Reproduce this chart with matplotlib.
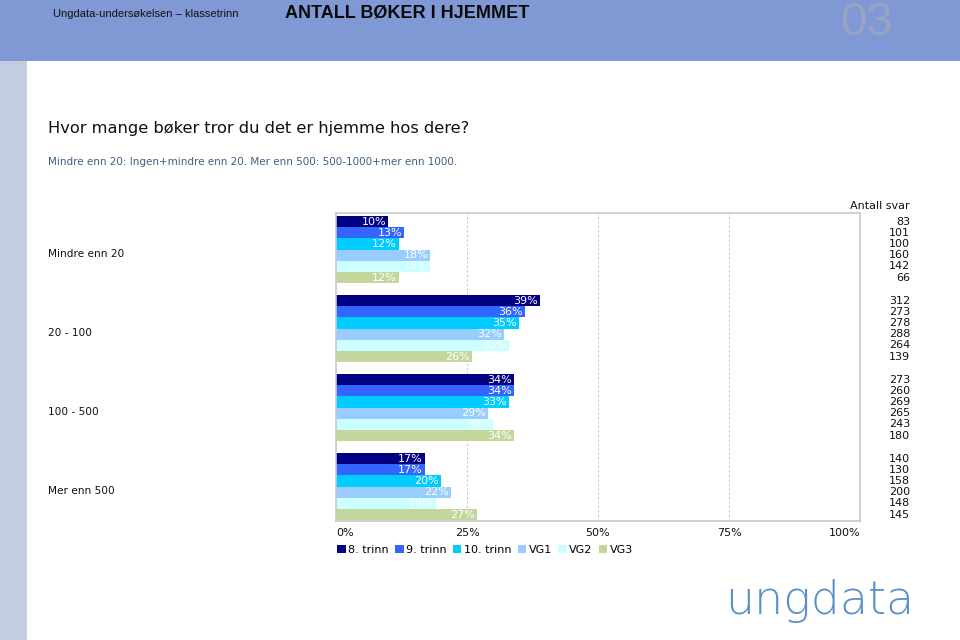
import numpy as np
import matplotlib
matplotlib.use("Agg")
import matplotlib.pyplot as plt
from matplotlib.patches import Patch, Rectangle
import matplotlib.transforms as mtransforms

# data
kategorier = ["Mindre enn 20", "20 - 100", "100 - 500", "Mer enn 500"]
trinn = ["8. trinn", "9. trinn", "10. trinn", "VG1", "VG2", "VG3"]
farger = ["#000080", "#3366ff", "#00ccff", "#99ccff", "#ccffff", "#c3d69b"]

prosent = {
    "Mindre enn 20": [10, 13, 12, 18, 18, 12],
    "20 - 100": [39, 36, 35, 32, 33, 26],
    "100 - 500": [34, 34, 33, 29, 30, 34],
    "Mer enn 500": [17, 17, 20, 22, 19, 27],
}
antall = {
    "Mindre enn 20": [83, 101, 100, 160, 142, 66],
    "20 - 100": [312, 273, 278, 288, 264, 139],
    "100 - 500": [273, 260, 269, 265, 243, 180],
    "Mer enn 500": [140, 130, 158, 200, 148, 145],
}

fig = plt.figure(figsize=(9.6, 6.4), dpi=100)
fig.patch.set_facecolor("white")

# header band and left strip
fig.patches.append(Rectangle((0, 1 - 61 / 640), 1, 61 / 640, transform=fig.transFigure,
                             facecolor="#8098d4", edgecolor="none", zorder=0))
fig.patches.append(Rectangle((0, 0), 27 / 960, 1 - 61 / 640, transform=fig.transFigure,
                             facecolor="#c3cde0", edgecolor="none", zorder=0))
for xs in [45, 278, 822, 918]:
    fig.add_artist(plt.Line2D([xs / 960, xs / 960], [1 - 55 / 640, 1 - 3 / 640],
                              transform=fig.transFigure, color="#889dd6", lw=0.6))

fig.text(53 / 960, 1 - 14 / 640, "Ungdata-undersøkelsen – klassetrinn",
         family="Liberation Sans", fontsize=8, stretch="condensed", va="center", color="#111111")
fig.text(285 / 960, 1 - 13 / 640, "ANTALL BØKER I HJEMMET",
         family="Liberation Sans", fontsize=13, weight="bold",
         va="center", color="#0a0a0a")
fig.text(867 / 960, 1 - 23 / 640, "03", family="Liberation Sans", fontsize=34,
         ha="center", va="center", color="#98a3c6")

fig.text(48 / 960, 1 - 128 / 640, "Hvor mange bøker tror du det er hjemme hos dere?",
         fontsize=11.7, va="center", color="#111111")
fig.text(48 / 960, 1 - 162 / 640,
         "Mindre enn 20: Ingen+mindre enn 20. Mer enn 500: 500-1000+mer enn 1000.",
         fontsize=7.5, va="center", color="#3d5f86")

ax = fig.add_axes([336 / 960, 1 - 521 / 640, 524 / 960, 308 / 640])

gap = 7.05
for g, kat in enumerate(kategorier):
    for i, t in enumerate(trinn):
        y = g * gap + i + 0.5
        v = prosent[kat][i]
        ax.barh(y, v, height=1.0, color=farger[i], edgecolor="none", zorder=2)
        ax.text(v - 0.4, y, f"{v}%", ha="right", va="center", color="white",
                fontsize=8, zorder=3)

ax.set_xlim(0, 100)
ax.set_ylim(27.23, -0.27)
ax.set_yticks([])
ax.set_xticks([0, 25, 50, 75, 100])
ax.set_xticklabels(["0%", "25%", "50%", "75%", "100%"], fontsize=8)
labs = ax.get_xticklabels()
labs[0].set_horizontalalignment("left")
labs[-1].set_horizontalalignment("right")
ax.tick_params(axis="x", length=0, pad=5, colors="#111111")
for x in [25, 50, 75]:
    ax.axvline(x, color="#c8c8c8", lw=0.8, ls=(0, (2, 2)), zorder=1)
for s in ax.spines.values():
    s.set_color("#c8c8c8")
    s.set_linewidth(1.2)

# category labels and counts
blend = mtransforms.blended_transform_factory(fig.transFigure, ax.transData)
for g, kat in enumerate(kategorier):
    ax.text(48 / 960, g * gap + 3.4, kat, transform=blend, fontsize=7.6,
            va="center", ha="left", color="#111111")
    for i in range(6):
        ax.text(910 / 960, g * gap + i + 0.5, str(antall[kat][i]), transform=blend,
                fontsize=8, va="center", ha="right", color="#111111")
fig.text(910 / 960, 1 - 206 / 640, "Antall svar", fontsize=8, ha="right",
         va="center", color="#111111")

handles = [Patch(facecolor=c, edgecolor="none") for c in farger]
fig.legend(handles, trinn, loc="center left", bbox_to_anchor=(333 / 960, 1 - 550 / 640),
           ncol=6, frameon=False, fontsize=8, handlelength=0.75, handleheight=0.75,
           handletextpad=0.2, columnspacing=0.6, borderaxespad=0)

fig.text(820 / 960, 1 - 601 / 640, "ungdata", fontsize=33, ha="center", va="center",
         color="#5b8fca", family="DejaVu Sans", weight="light")

fig.savefig("out.png", dpi=100)
